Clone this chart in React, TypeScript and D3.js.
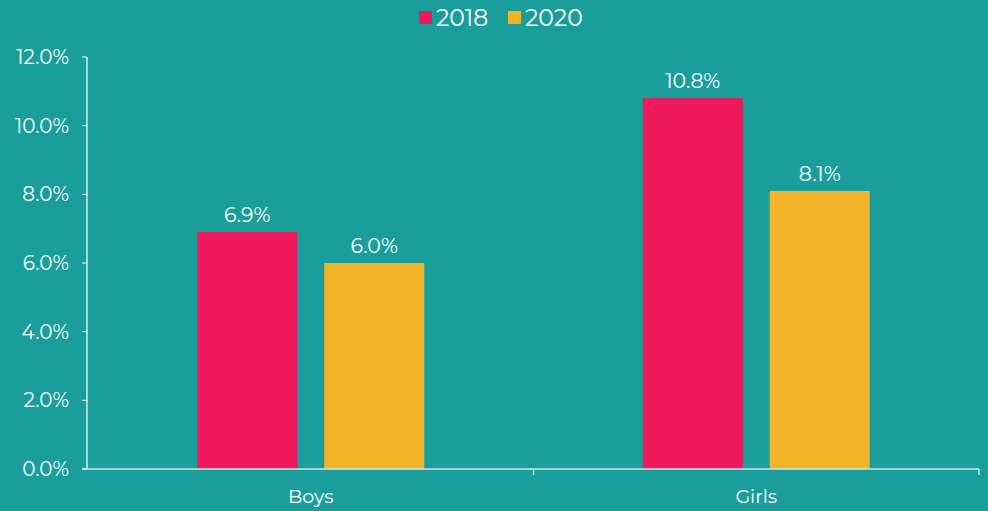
import React from "react";
import * as d3 from "d3";

const categories = ["Boys", "Girls"];
const seriesNames = ["2018", "2020"];
const values2018 = [6.9, 10.8];
const values2020 = [6.0, 8.1];
const yTicks = [0, 2, 4, 6, 8, 10, 12];
const colors = ["#ee1a5b", "#f2b328"];

const W = 988, H = 511;
const margin = { left: 87, right: 9, top: 57, bottom: 42 };
const FONT = "Montserrat, 'Open Sans', 'DejaVu Sans', sans-serif";

export default function App() {
  const x = d3.scaleBand<string>().domain(categories).range([margin.left + 1, W - margin.right]);
  const y = d3.scaleLinear().domain([0, 12]).range([H - margin.bottom, margin.top]);
  const barW = 100;
  const gap = 27;
  const series = [values2018, values2020];
  const x0 = y(0);
  return (
    <svg width={W} height={H} style={{ position: "absolute", left: 0, top: 0, background: "#1a9e9b" }} fontFamily={FONT}>
      <rect x={0} y={0} width={W} height={H} fill="#1a9e9b" />
      {/* legend */}
      {seriesNames.map((s, i) => {
        const lx = i === 0 ? 419 : 508;
        return (
          <g key={s}>
            <rect x={lx} y={11} width={13} height={13} fill={colors[i]} />
            <text x={lx + 17} y={26} fill="#ffffff" fontSize={23.5}>{s}</text>
          </g>
        );
      })}
      {/* y axis */}
      <line x1={margin.left} x2={margin.left} y1={y(12)} y2={x0} stroke="#ffffff" strokeWidth={1.2} />
      {yTicks.map((t) => (
        <g key={t}>
          <line x1={margin.left - 5} x2={margin.left} y1={y(t)} y2={y(t)} stroke="#ffffff" strokeWidth={1} />
          <text x={69} y={y(t) + 7} textAnchor="end" fill="#ffffff" fontSize={20}>{t.toFixed(1)}%</text>
        </g>
      ))}
      {/* bars */}
      {categories.map((c, ci) => {
        const center = (x(c) as number) + x.bandwidth() / 2;
        const groupW = barW * 2 + gap;
        return (
          <g key={c}>
            {series.map((vals, si) => {
              const bx = center - groupW / 2 + si * (barW + gap);
              const v = vals[ci];
              return (
                <g key={si}>
                  <rect x={bx} y={y(v)} width={barW} height={x0 - y(v)} fill={colors[si]} />
                  <text x={bx + barW / 2} y={y(v) - 10} textAnchor="middle" fill="#ffffff" fontSize={20.5}>{v.toFixed(1)}%</text>
                </g>
              );
            })}
            <text x={center} y={503} textAnchor="middle" fill="#ffffff" fontSize={19}>{c}</text>
          </g>
        );
      })}
      {/* x axis */}
      <line x1={margin.left - 5} x2={W - margin.right} y1={x0} y2={x0} stroke="#cfe8e6" strokeWidth={1.5} />
      {categories.map((c, i) => {
        const tx = (x(c) as number) + x.bandwidth();
        return <line key={c} x1={tx} x2={tx} y1={x0} y2={x0 + 6} stroke="#cfe8e6" strokeWidth={1.5} />;
      })}
    </svg>
  );
}
